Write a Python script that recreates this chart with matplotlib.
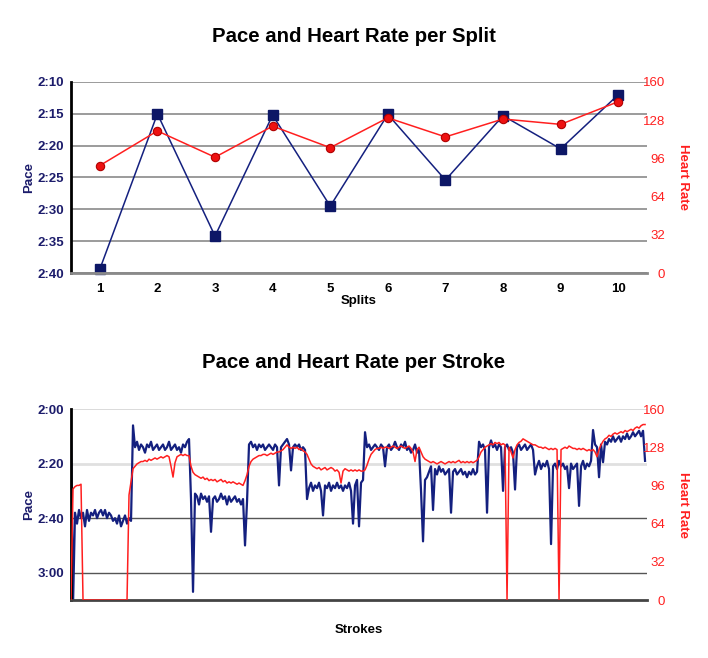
import numpy as np
import matplotlib
matplotlib.use("Agg")
import matplotlib.pyplot as plt
from matplotlib.ticker import FuncFormatter

plt.rcParams['font.family'] = ['Liberation Sans', 'DejaVu Sans']

NAVY = '#14207f'
NAVY_TXT = '#1c1c6b'
RED = '#ff1f1f'

# per split: pace in seconds per 500m, heart rate in bpm
splits = [1, 2, 3, 4, 5, 6, 7, 8, 9, 10]
split_pace = [159.4, 135.0, 154.2, 135.2, 149.5, 135.1, 145.4, 135.3, 140.5, 132.0]
split_hr = [90, 119, 97, 123, 105, 130, 114, 129, 124.5, 143.5]

# per stroke
stroke_pace = [
    132, 192,
    158, 162, 157, 160, 158, 163, 157, 161, 158, 159, 157, 160, 158, 157, 159,
    157, 160, 158, 159, 161, 160, 162, 159, 163, 161, 159, 162, 160, 161,
    126,
    134, 132, 135, 133, 134, 136, 133, 134, 132, 135, 134, 133, 135, 134,
    133, 135, 134, 132, 135, 134, 133, 135, 134, 136, 133, 134, 132, 131,
    153, 187, 151,
    152, 155, 151, 153, 152, 154, 152, 165, 153, 152, 154, 153, 151, 153,
    152, 155, 152, 154, 153, 152, 154, 153, 155, 153, 170, 154,
    133, 132, 134, 133, 135, 133, 134, 133, 135, 134, 133, 134, 135, 133, 134,
    148, 134, 133, 132, 131, 133, 142.5, 134, 133, 134, 133, 135, 134, 135,
    153, 149, 147, 150, 148, 149, 147, 150, 159, 148, 149, 147, 150, 148, 149,
    147, 149, 148, 150, 148, 149, 147, 150, 162, 148, 146, 163, 147, 146,
    128.5, 134, 133, 135, 134, 133, 134, 135, 133, 134, 141, 134, 133, 135,
    134, 132, 134, 135, 133, 134, 132, 135, 134, 136, 135, 133, 136, 135,
    150, 168.5, 146, 145, 143, 141, 157, 142, 144, 141, 143, 142, 144, 143, 142,
    158, 143, 142, 144, 143, 142, 144, 143, 145, 143, 144, 142, 144, 143,
    132, 134, 133, 135, 158, 134, 131.5, 134, 133, 135, 133, 134, 150, 134,
    133, 135, 134, 136, 149.5, 134, 133, 135, 134, 133, 135, 134, 133, 135,
    144, 141, 139, 142, 140, 141, 139, 142, 169.5, 141, 140, 142, 139, 141, 140,
    142, 141, 149, 140, 142, 141, 140, 155.5, 141, 139, 142, 140, 141, 139,
    127.7, 133, 134, 145, 133, 139.5, 132, 133, 131, 132, 130, 132, 131, 130,
    132, 130, 131, 129, 131, 130, 128.5, 130, 129, 128, 130, 128, 139,
]
stroke_hr = [
    0, 93, 95, 96, 96, 97,
    0, 0, 0, 0, 0, 0, 0, 0, 0, 0, 0, 0, 0, 0, 0, 0, 0, 0, 0, 0, 0, 0, 0,
    88, 99, 110, 112, 114, 115, 116, 116, 117, 116, 118, 117, 118, 119, 118, 119,
    120, 119, 120, 121, 120, 112, 103, 115, 120, 121, 122, 121, 122, 121, 121,
    112, 107, 105, 104, 103, 102, 103, 101, 102, 100, 101, 100, 101, 99, 100,
    101, 99, 100, 98, 99, 98, 99, 98, 97, 98, 97, 96, 100, 105,
    112, 116, 118, 119, 120, 121, 121, 122, 122, 121, 122, 123, 122, 123, 124,
    124, 125, 126, 128, 130, 128, 127, 128, 127, 128, 126, 127, 125, 124,
    122, 118, 114, 112, 111, 110, 111, 109, 110, 111, 109, 110, 111, 110, 108,
    109, 107, 98, 108, 110, 109, 108, 109, 108, 109, 108, 109, 108, 108,
    109, 113, 118, 122, 124, 126, 127, 127, 128, 127, 128, 128, 127, 128,
    129, 128, 127, 128, 129, 128, 127, 128, 129, 127, 124, 116, 126, 128,
    124, 120, 118, 117, 116, 115, 116, 115, 114, 115, 116, 115, 114, 115, 116,
    115, 116, 115, 116, 117, 115, 116, 115, 116, 115, 116, 115, 116, 117,
    120, 124, 126, 128, 129, 130, 131, 130, 132, 131, 132, 130, 131, 130,
    0, 128, 124, 119, 126, 130, 132, 133, 135, 134, 133, 132, 131, 130,
    130, 129, 128, 128, 127, 128, 127, 126, 127, 126, 127, 126, 0, 126, 127,
    128, 127, 129, 128, 127, 127, 126, 127, 126, 127, 126, 125, 126, 125,
    126, 124, 120, 126, 130, 133, 135, 136, 138, 137, 139, 140, 139, 140,
    141, 140, 142, 141, 142, 143, 142, 144, 145, 144, 146, 147, 147,
]
strokes = np.arange(len(stroke_pace))


def fmt_pace(v, pos):
    m, s = divmod(int(round(v)), 60)
    return f"{m}:{s:02d}"


def style_axes(ax, axr, yticks, ylim, grid_styles):
    ax.set_ylim(*ylim)
    ax.set_yticks(yticks)
    ax.yaxis.set_major_formatter(FuncFormatter(fmt_pace))
    ax.tick_params(axis='y', length=0, pad=5, labelsize=9.5, labelcolor=NAVY_TXT)
    for lbl in ax.get_yticklabels():
        lbl.set_fontweight('bold')
    for yv, (c, lw) in zip(yticks, grid_styles):
        ax.axhline(yv, color=c, lw=lw, zorder=0)
    for s in ['top', 'right']:
        ax.spines[s].set_visible(False)
    ax.spines['left'].set_color('black')
    ax.spines['left'].set_linewidth(2)
    ax.set_ylabel('Pace', color=NAVY_TXT, fontweight='bold', fontsize=9.5, labelpad=2)

    axr.set_ylim(0, 160)
    axr.set_yticks([0, 32, 64, 96, 128, 160])
    axr.tick_params(axis='y', length=0, pad=13, labelsize=9.5, labelcolor=RED)
    for lbl in axr.get_yticklabels():
        lbl.set_horizontalalignment('right')
    for s in axr.spines.values():
        s.set_visible(False)
    axr.set_ylabel('Heart Rate', color=RED, fontweight='bold', fontsize=9.5,
                   rotation=270, labelpad=17)


fig = plt.figure(figsize=(7.08, 6.58), dpi=100)

# --- per split ---
ax1 = fig.add_axes([0.1003, 0.5851, 0.8136, 0.2903])
ax1r = ax1.twinx()
style_axes(ax1, ax1r, [130, 135, 140, 145, 150, 155, 160], (160, 130),
           [('#8a8a8a', 1.2)] * 6 + [('#8a8a8a', 2)])
ax1.spines['bottom'].set_color('#8a8a8a')
ax1.spines['bottom'].set_linewidth(2)
ax1.set_xlim(0.5, 10.5)
ax1.set_xticks(splits)
ax1.tick_params(axis='x', length=0, pad=7, labelsize=9.5)
for lbl in ax1.get_xticklabels():
    lbl.set_fontweight('bold')
ax1.set_xlabel('Splits', fontweight='bold', fontsize=9.5, labelpad=0)
ax1.plot(splits, split_pace, color=NAVY, lw=1.1, marker='s', ms=6.5,
         mfc='#0d1766', mec='#0d1766', clip_on=False)
ax1r.plot(splits, split_hr, color=RED, lw=1.1, marker='o', ms=6,
          mfc='#ee1111', mec='#b00000', mew=0.8, clip_on=False)

# --- per stroke ---
ax2 = fig.add_axes([0.1003, 0.0881, 0.8136, 0.2903])
ax2r = ax2.twinx()
style_axes(ax2, ax2r, [120, 140, 160, 180], (190, 120),
           [('#d4d4d4', 1.2), ('#e0e0e0', 2), ('#555555', 1), ('#555555', 1)])
ax2.spines['bottom'].set_color('#444444')
ax2.spines['bottom'].set_linewidth(2)
ax2.set_xlim(0, len(stroke_pace))
ax2.tick_params(axis='x', length=0, labelbottom=False)
ax2.set_xlabel('Strokes', fontweight='bold', fontsize=9.5, labelpad=17)
ax2.plot(strokes, stroke_pace, color=NAVY, lw=1.6)
ax2r.plot(strokes, stroke_hr, color=RED, lw=1.1)

fig.text(0.5, 1 - 37 / 658, 'Pace and Heart Rate per Split',
         ha='center', va='center', fontsize=14.7, fontweight='bold')
fig.text(0.5, 1 - 363 / 658, 'Pace and Heart Rate per Stroke',
         ha='center', va='center', fontsize=14.7, fontweight='bold')

fig.savefig('out.png', dpi=100)
